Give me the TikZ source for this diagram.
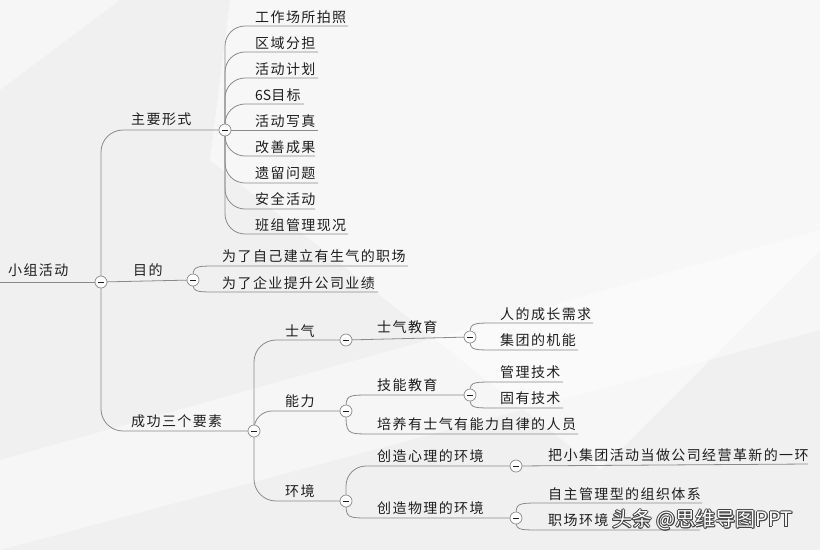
\documentclass[tikz,border=0pt]{standalone}
\usepackage{fontspec}
\newfontfamily\cjk[LetterSpace=10]{Noto Sans CJK SC}
\newfontfamily\cjkplain{Noto Sans CJK SC}
\usetikzlibrary{calc}
\definecolor{linec}{HTML}{8A8A8A}
\definecolor{textc}{HTML}{1E1E1E}
\definecolor{bgc}{HTML}{F0F0F0}
\begin{document}
\begin{tikzpicture}[x=1pt,y=-1pt,
  txt/.style={font=\cjk\fontsize{14}{16}\selectfont, text=textc, inner sep=0pt, anchor=west},
  link/.style={draw=linec, line width=0.8pt},
  tog/.style={circle, draw=linec, fill=white, line width=0.7pt, minimum size=12pt, inner sep=0pt,
    path picture={\draw[line width=0.9pt, textc] ([xshift=-3pt]path picture bounding box.center) -- ([xshift=3pt]path picture bounding box.center);}},
  wm/.style={font=\cjkplain\fontsize{20}{24}\selectfont, inner sep=0pt, anchor=west}
]
\useasboundingbox (0,0) rectangle (820,550);
% background
\fill[bgc] (0,0) rectangle (820,550);
\fill[white, opacity=0.5] (230,0) -- (820,0) -- (820,250) -- (600,470) -- (210,160) -- cycle;
\fill[white, opacity=0.45] (0,460) -- (820,230) -- (820,330) -- (0,550) -- cycle;
\fill[white, opacity=0.4] (0,0) -- (120,0) -- (0,90) -- cycle;

% circle centres and underline ends
\coordinate (r0) at (0,282);
\coordinate (k0) at (101,282);
\coordinate (k1) at (225,130);
\coordinate (k2) at (193,280);
\coordinate (k3) at (254,431);
\coordinate (k4) at (346,340);
\coordinate (k5) at (346,411);
\coordinate (k6) at (346,501);
\coordinate (k7) at (470,337);
\coordinate (k8) at (470,395);
\coordinate (k9) at (516,466);
\coordinate (k10) at (516,518);

\coordinate (u11) at (348,26);
\coordinate (u12) at (318,52);
\coordinate (u13) at (318,78);
\coordinate (u14) at (304,104);
\coordinate (u15) at (318,130);
\coordinate (u16) at (315,156);
\coordinate (u17) at (318,183);
\coordinate (u18) at (315,209);
\coordinate (u19) at (348,234);
\coordinate (u21) at (408,266);
\coordinate (u22) at (378,292);
\coordinate (u71) at (593,323);
\coordinate (u72) at (578,350);
\coordinate (u81) at (563,382);
\coordinate (u82) at (563,408);
\coordinate (u5) at (578,434);
\coordinate (u91) at (808,464);
\coordinate (u101) at (702,503);
\coordinate (u102) at (700,530);

% texts
\node[txt] (root) at (8,270) {小组活动};
\node[txt] (t1) at (131,119) {主要形式};
\node[txt] (t2) at (133,270) {目的};
\node[txt] (t3) at (131,421) {成功三个要素};
\node[txt] (l11) at (255,17) {工作场所拍照};
\node[txt] (l12) at (255,43) {区域分担};
\node[txt] (l13) at (255,69) {活动计划};
\node[txt] (l14) at (255,95) {{\cjkplain 6S}目标};
\node[txt] (l15) at (255,121) {活动写真};
\node[txt] (l16) at (255,147) {改善成果};
\node[txt] (l17) at (255,173) {遗留问题};
\node[txt] (l18) at (255,199) {安全活动};
\node[txt] (l19) at (255,225) {班组管理现况};
\node[txt] (l21) at (222,256) {为了自己建立有生气的职场};
\node[txt] (l22) at (222,283) {为了企业提升公司业绩};
\node[txt] (t4) at (285,331) {士气};
\node[txt] (t5) at (285,401) {能力};
\node[txt] (t6) at (285,491) {环境};
\node[txt] (t7) at (377,327) {士气教育};
\node[txt] (t8) at (377,385) {技能教育};
\node[txt] (t50) at (377,424) {培养有士气有能力自律的人员};
\node[txt] (t9) at (377,456) {创造心理的环境};
\node[txt] (t10) at (377,508) {创造物理的环境};
\node[txt] (l71) at (500,314) {人的成长需求};
\node[txt] (l72) at (500,340) {集团的机能};
\node[txt] (l81) at (500,372) {管理技术};
\node[txt] (l82) at (500,398) {固有技术};
\node[txt] (l91) at (548,455) {把小集团活动当做公司经营革新的一环};
\node[txt] (l101) at (548,494) {自主管理型的组织体系};
\node[txt] (l102) at (548,520) {职场环境};

% connectors
\draw[link] (r0) -- (k0);
\draw[link, rounded corners=22pt] (k0) |- (k1);
\draw[link] (k0) -- (k2);
\draw[link, rounded corners=22pt] (k0) |- (k3);

\foreach \u in {u11,u12,u13,u14,u16,u17,u18,u19}
  \draw[link, rounded corners=20pt] (k1) |- (\u);
\draw[link] (k1) -- (u15);

\draw[link] (k2) .. controls (k2 |- u21) .. ($(k2 |- u21)+(26,0)$) -- (u21);
\draw[link] (k2) .. controls (k2 |- u22) .. ($(k2 |- u22)+(26,0)$) -- (u22);

\draw[link, rounded corners=22pt] (k3) |- (k4);
\draw[link, rounded corners=18pt] (k3) |- (k5);
\draw[link, rounded corners=22pt] (k3) |- (k6);

\draw[link] (k4) -- (k7);
\draw[link] (k7) .. controls (k7 |- u71) .. ($(k7 |- u71)+(26,0)$) -- (u71);
\draw[link] (k7) .. controls (k7 |- u72) .. ($(k7 |- u72)+(26,0)$) -- (u72);

\draw[link] (k5) .. controls (k5 |- k8) .. ($(k5 |- k8)+(26,0)$) -- (k8);
\draw[link] (k5) .. controls (k5 |- u5) .. ($(k5 |- u5)+(26,0)$) -- (u5);
\draw[link] (k8) .. controls (k8 |- u81) .. ($(k8 |- u81)+(26,0)$) -- (u81);
\draw[link] (k8) .. controls (k8 |- u82) .. ($(k8 |- u82)+(26,0)$) -- (u82);

\draw[link, rounded corners=20pt] (k6) |- (k9);
\draw[link] (k6) .. controls (k6 |- k10) .. ($(k6 |- k10)+(26,0)$) -- (k10);
\draw[link] (k9) -- (u91);
\draw[link] (k10) .. controls (k10 |- u101) .. ($(k10 |- u101)+(26,0)$) -- (u101);
\draw[link] (k10) .. controls (k10 |- u102) .. ($(k10 |- u102)+(26,0)$) -- (u102);

% toggles
\foreach \k in {k0,k1,k2,k3,k4,k5,k6,k7,k8,k9,k10}
  \node[tog] at (\k) {};

% watermark
\foreach \dx/\dy in {-0.8/0,0.8/0,0/-0.8,0/0.8,0.6/0.6,-0.6/-0.6,0.6/-0.6,-0.6/0.6}
  \node[wm, text=black!75] at ($(612,520)+(\dx,\dy)$) {头条 @思维导图PPT};
\node[wm, text=white] (wmk) at (612,520) {头条 @思维导图PPT};
\end{tikzpicture}
\end{document}
